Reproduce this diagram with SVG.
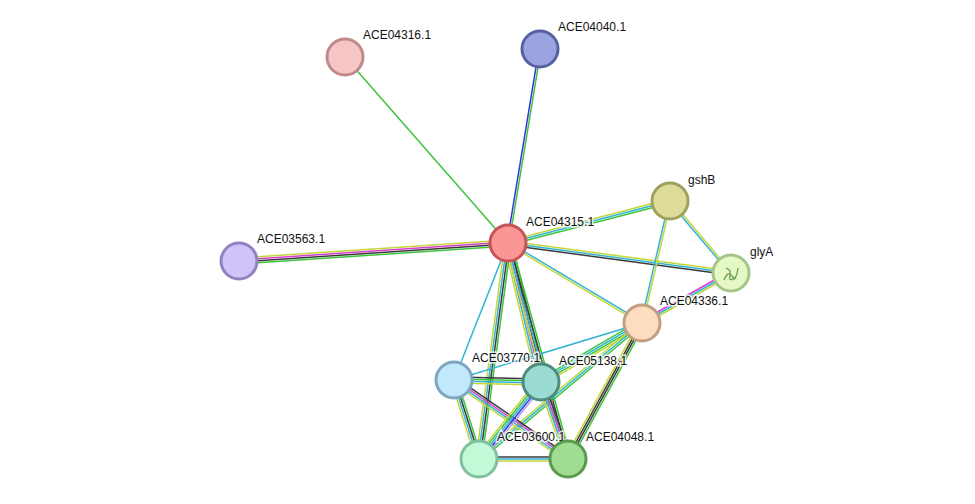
<svg xmlns="http://www.w3.org/2000/svg" width="975" height="504" viewBox="0 0 975 504">
<style>
line{stroke-width:1.5;fill:none}
.g{stroke:#3dc43d}.k{stroke:#3a3a3a}.m{stroke:#d640cf}.y{stroke:#c4d63a}.c{stroke:#30b4d4}.b{stroke:#3434e0}.h{stroke:#a8a0f0}
circle{stroke-width:3}
text{font-family:"Liberation Sans",Arial,sans-serif;font-size:12px;fill:#111;stroke:#fff;stroke-width:3;paint-order:stroke;stroke-opacity:.8}
</style>
<rect width="975" height="504" fill="#fff"/>
<g id="connectors">
<g transform="translate(508,243) rotate(-131.23)"><line class="g" x1="0" y1="0" x2="247.3" y2="0"/></g>
<g transform="translate(508,243) rotate(-80.63)"><line class="b" x1="0" y1="-1" x2="196.6" y2="-1"/><line class="g" x1="0" y1="1" x2="196.6" y2="1"/></g>
<g transform="translate(508,243) rotate(176.17)"><line class="g" x1="0" y1="-3" x2="269.6" y2="-3"/><line class="k" x1="0" y1="-1" x2="269.6" y2="-1"/><line class="m" x1="0" y1="1" x2="269.6" y2="1"/><line class="y" x1="0" y1="3" x2="269.6" y2="3"/></g>
<g transform="translate(508,243) rotate(-14.53)"><line class="y" x1="0" y1="-2" x2="167.4" y2="-2"/><line class="c" x1="0" y1="0" x2="167.4" y2="0"/><line class="g" x1="0" y1="2" x2="167.4" y2="2"/></g>
<g transform="translate(508,243) rotate(7.66)"><line class="y" x1="0" y1="-2" x2="225" y2="-2"/><line class="c" x1="0" y1="0" x2="225" y2="0"/><line class="k" x1="0" y1="2" x2="225" y2="2"/></g>
<g transform="translate(508,243) rotate(30.84)"><line class="c" x1="0" y1="-1" x2="156.1" y2="-1"/><line class="y" x1="0" y1="1" x2="156.1" y2="1"/></g>
<g transform="translate(508,243) rotate(111.51)"><line class="c" x1="0" y1="0" x2="147.3" y2="0"/></g>
<g transform="translate(508,243) rotate(76.64)"><line class="g" x1="0" y1="-4" x2="142.9" y2="-4"/><line class="k" x1="0" y1="-2" x2="142.9" y2="-2"/><line class="m" x1="0" y1="0" x2="142.9" y2="0"/><line class="c" x1="0" y1="2" x2="142.9" y2="2"/><line class="y" x1="0" y1="4" x2="142.9" y2="4"/></g>
<g transform="translate(508,243) rotate(97.65)"><line class="g" x1="0" y1="-3" x2="217.9" y2="-3"/><line class="k" x1="0" y1="-1" x2="217.9" y2="-1"/><line class="c" x1="0" y1="1" x2="217.9" y2="1"/><line class="y" x1="0" y1="3" x2="217.9" y2="3"/></g>
<g transform="translate(508,243) rotate(74.48)"><line class="g" x1="0" y1="-3" x2="224.2" y2="-3"/><line class="k" x1="0" y1="-1" x2="224.2" y2="-1"/><line class="c" x1="0" y1="1" x2="224.2" y2="1"/><line class="y" x1="0" y1="3" x2="224.2" y2="3"/></g>
<g transform="translate(670,201) rotate(49.73)"><line class="y" x1="0" y1="-1" x2="94.4" y2="-1"/><line class="c" x1="0" y1="1" x2="94.4" y2="1"/></g>
<g transform="translate(670,201) rotate(102.93)"><line class="y" x1="0" y1="-1" x2="125.2" y2="-1"/><line class="c" x1="0" y1="1" x2="125.2" y2="1"/></g>
<g transform="translate(731,273) rotate(150.67)"><line class="y" x1="0" y1="-2" x2="102.1" y2="-2"/><line class="c" x1="0" y1="0" x2="102.1" y2="0"/><line class="m" x1="0" y1="2" x2="102.1" y2="2"/></g>
<g transform="translate(642,323) rotate(163.13)"><line class="c" x1="0" y1="0" x2="196.5" y2="0"/></g>
<g transform="translate(642,323) rotate(149.71)"><line class="y" x1="0" y1="-3" x2="117" y2="-3"/><line class="g" x1="0" y1="-1" x2="117" y2="-1"/><line class="c" x1="0" y1="1" x2="117" y2="1"/><line class="g" x1="0" y1="3" x2="117" y2="3"/></g>
<g transform="translate(642,323) rotate(140.16)"><line class="g" x1="0" y1="-2" x2="212.3" y2="-2"/><line class="c" x1="0" y1="0" x2="212.3" y2="0"/><line class="y" x1="0" y1="2" x2="212.3" y2="2"/></g>
<g transform="translate(642,323) rotate(118.55)"><line class="g" x1="0" y1="-3" x2="154.8" y2="-3"/><line class="k" x1="0" y1="-1" x2="154.8" y2="-1"/><line class="k" x1="0" y1="1" x2="154.8" y2="1"/><line class="y" x1="0" y1="3" x2="154.8" y2="3"/></g>
<g transform="translate(454,380) rotate(1.32)"><line class="k" x1="0" y1="-3" x2="87" y2="-3"/><line class="g" x1="0" y1="-1" x2="87" y2="-1"/><line class="c" x1="0" y1="1" x2="87" y2="1"/><line class="y" x1="0" y1="3" x2="87" y2="3"/></g>
<g transform="translate(454,380) rotate(72.44)"><line class="g" x1="0" y1="-3" x2="82.9" y2="-3"/><line class="k" x1="0" y1="-1" x2="82.9" y2="-1"/><line class="c" x1="0" y1="1" x2="82.9" y2="1"/><line class="y" x1="0" y1="3" x2="82.9" y2="3"/></g>
<g transform="translate(454,380) rotate(34.72)"><line class="k" x1="0" y1="-3" x2="138.7" y2="-3"/><line class="m" x1="0" y1="-1" x2="138.7" y2="-1"/><line class="c" x1="0" y1="1" x2="138.7" y2="1"/><line class="y" x1="0" y1="3" x2="138.7" y2="3"/></g>
<g transform="translate(541,382) rotate(128.84)"><line class="h" x1="0" y1="-4" x2="98.9" y2="-4"/><line class="b" x1="0" y1="-2" x2="98.9" y2="-2"/><line class="c" x1="0" y1="0" x2="98.9" y2="0"/><line class="g" x1="0" y1="2" x2="98.9" y2="2"/><line class="y" x1="0" y1="4" x2="98.9" y2="4"/></g>
<g transform="translate(541,382) rotate(70.67)"><line class="k" x1="0" y1="-3" x2="81.6" y2="-3"/><line class="m" x1="0" y1="-1" x2="81.6" y2="-1"/><line class="c" x1="0" y1="1" x2="81.6" y2="1"/><line class="y" x1="0" y1="3" x2="81.6" y2="3"/></g>
<g transform="translate(479,459)"><line class="k" x1="0" y1="-2" x2="89" y2="-2"/><line class="c" x1="0" y1="0" x2="89" y2="0"/><line class="y" x1="0" y1="2" x2="89" y2="2"/></g>
</g>
<g id="ACE04315.1"><circle cx="508" cy="243" r="18" fill="#fa9696" stroke="#c55555"/><text x="526" y="226">ACE04315.1</text></g>
<g id="ACE04316.1"><circle cx="345" cy="57" r="18" fill="#f6c6c6" stroke="#c08a8a"/><text x="363" y="39">ACE04316.1</text></g>
<g id="ACE04040.1"><circle cx="540" cy="49" r="18" fill="#9aa4e0" stroke="#5862a2"/><text x="558" y="31">ACE04040.1</text></g>
<g id="ACE03563.1"><circle cx="239" cy="261" r="18" fill="#d2c2fa" stroke="#9282c2"/><text x="257" y="243">ACE03563.1</text></g>
<g id="gshB"><circle cx="670" cy="201" r="18" fill="#dedc9a" stroke="#a0a060"/><text x="688" y="184">gshB</text></g>
<g id="glyA"><circle cx="731" cy="273" r="18" fill="#e6f8c4" stroke="#a6c486"/><path d="M724 280 q4-10 8-4 q4 6 6-8 M726 268 q6 2 4 8 q-2 6 6 2" stroke="#7aa860" stroke-width="1.5" fill="none"/><text x="750" y="256">glyA</text></g>
<g id="ACE04336.1"><circle cx="642" cy="323" r="18" fill="#fddcc0" stroke="#c0a080"/><text x="660" y="305">ACE04336.1</text></g>
<g id="ACE03770.1"><circle cx="454" cy="380" r="18" fill="#c2e8fc" stroke="#7ea6c0"/><text x="472" y="362">ACE03770.1</text></g>
<g id="ACE05138.1"><circle cx="541" cy="382" r="18" fill="#9adcd2" stroke="#4e8c80"/><text x="559" y="365">ACE05138.1</text></g>
<g id="ACE03600.1"><circle cx="479" cy="459" r="18" fill="#c2fad8" stroke="#80c09e"/><text x="497" y="441">ACE03600.1</text></g>
<g id="ACE04048.1"><circle cx="568" cy="459" r="18" fill="#a0dc92" stroke="#5a9a50"/><text x="586" y="441">ACE04048.1</text></g>
</svg>
